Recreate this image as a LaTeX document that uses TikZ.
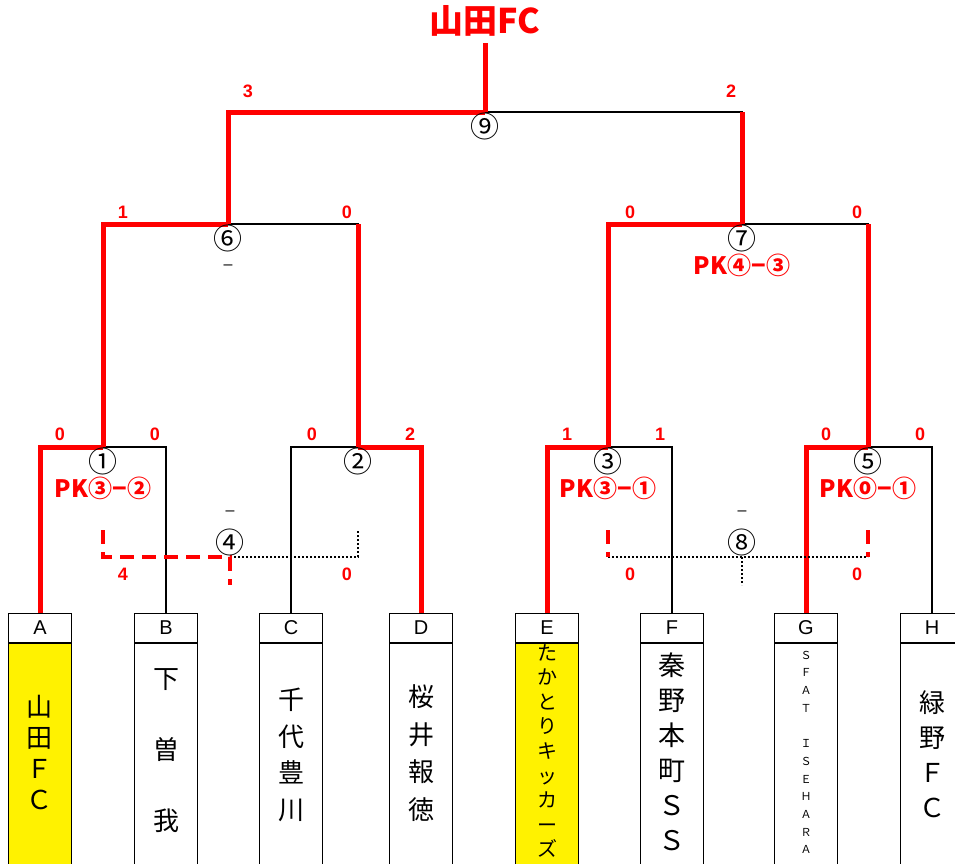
\documentclass[tikz,border=0pt]{standalone}
\usepackage{fontspec}
\setmainfont{Liberation Sans}
\newfontfamily\jp{Noto Sans CJK JP}
\begin{document}
\begin{tikzpicture}[x=1pt,y=-1pt,
  win/.style={red, line width=5pt},
  lose/.style={black, line width=1.8pt},
  windash/.style={red, line width=4pt, dash pattern=on 14pt off 8pt},
  dots/.style={black, line width=1.6pt, dash pattern=on 1.6pt off 2.4pt},
  score/.style={red, font=\fontsize{18}{18}\selectfont\bfseries},
  circ/.style={font=\fontsize{29}{29}\selectfont\jp, inner sep=0pt},
  pk/.style={red, font=\fontsize{24}{24}\selectfont\jp\bfseries, inner sep=0pt},
  hdr/.style={draw, line width=1.6pt, minimum width=63pt, minimum height=29pt, inner sep=0pt, font=\fontsize{20}{20}\selectfont},
  body/.style={draw, line width=1.6pt, minimum width=63pt, minimum height=228pt, anchor=north, inner sep=0pt},
  ttxt/.style 2 args={align=center, inner sep=0pt, font=\fontsize{#1}{#2}\selectfont\jp}
]
\useasboundingbox (0,0) rectangle (955,863);
\clip (0,0) rectangle (955,863);

% team boxes
\foreach \n/\x/\c in {A/40/yellow,B/166/white,C/291/white,D/421/white,E/547/yellow,F/672/white,G/806/white,H/932/white}{
  \node[body, fill=\c] (b\n) at (\x,642) {};
  \node[hdr] (h\n) at (\x,628) {\n};
}
\node[ttxt={26}{31}] (tA) at (bA.north |- 0,752) {山\\田\\Ｆ\\Ｃ};
\node[ttxt={26}{71}] (tB) at (bB.north |- 0,751) {下\\曽\\我};
\node[ttxt={26}{36.5}] (tC) at (bC.north |- 0,755) {千\\代\\豊\\川};
\node[ttxt={26}{37.5}] (tD) at (bD.north |- 0,753) {桜\\井\\報\\徳};
\node[ttxt={20}{24.6}] (tE) at (bE.north |- 0,751) {た\\か\\と\\り\\キ\\ッ\\カ\\ー\\ズ};
\node[ttxt={27}{35}] (tF) at (bF.north |- 0,752) {秦\\野\\本\\町\\Ｓ\\Ｓ};
\node[ttxt={11}{17.7}] (tG) at (bG.north |- 0,752.5) {Ｓ\\Ｆ\\Ａ\\Ｔ\\\strut\\Ｉ\\Ｓ\\Ｅ\\Ｈ\\Ａ\\Ｒ\\Ａ};
\node[ttxt={26}{35}] (tH) at (bH.north |- 0,754) {緑\\野\\Ｆ\\Ｃ};

% junctions
\coordinate (m1) at (103,447);
\coordinate (m2) at (358,447);
\coordinate (m3) at (608,447);
\coordinate (m5) at (868,447);
\coordinate (m6) at (228,224);
\coordinate (m7) at (742,224);
\coordinate (m9) at (485,112);
\coordinate (m4) at (230,557);
\coordinate (m8) at (742,557);

% black (losing) lines
\draw[lose] (m1) -| (hB.north);
\draw[lose] (hC.north) |- (m2);
\draw[lose] (m3) -| (hF.north);
\draw[lose] (m5) -| (hH.north);
\draw[lose] (m6) -| (m2);
\draw[lose] (m7) -| (m5);
\draw[lose] (m9) -| (m7);

% red (winning) lines
\draw[win] (hA.north) |- (m1);
\draw[win] (m2) -| (hD.north);
\draw[win] (hE.north) |- (m3);
\draw[win] (hG.north) |- (m5);
\draw[win] (m1) |- (m6);
\draw[win] (m2) -- (m2 |- m6);
\draw[win] (m3) |- (m7);
\draw[win] (m5) -- (m5 |- m7);
\draw[win] (m6) |- (m9);
\draw[win] (m7) -- (m7 |- m9);

\node[red, font=\fontsize{34}{34}\selectfont\jp\bfseries, inner sep=0pt] (champ) at (485,21) {山田FC};
\draw[win] (m9) -- (485,43);

% placement matches
\coordinate (t4l) at (103,530);
\coordinate (t4r) at (358,530);
\coordinate (t4b) at (230,585);
\draw[dots] (m4) -| (t4r);
\draw[windash] (t4l) |- (m4) -- (t4b);
\coordinate (t8l) at (608,530);
\coordinate (t8r) at (868,530);
\coordinate (t8b) at (742,585);
\draw[dots] (t8l |- m8) -- (t8r |- m8);
\draw[dots] (m8) -- (t8b);
\draw[windash] (t8l) -- (t8l |- m8);
\draw[windash] (t8r) -- (t8r |- m8);

% match numbers
\node[circ] (n1) at (103,461) {①};
\node[circ] (n2) at (358,461) {②};
\node[circ] (n3) at (608,461) {③};
\node[circ] (n5) at (868,461) {⑤};
\node[circ] (n6) at (228,238) {⑥};
\node[circ] (n7) at (742,238) {⑦};
\node[circ] (n9) at (485,126) {⑨};
\node[circ] (n4) at (230,542) {④};
\node[circ] (n8) at (742,542) {⑧};
\node[font=\fontsize{16}{16}\selectfont, inner sep=0pt] (d6) at (228,267) {–};
\node[font=\fontsize{16}{16}\selectfont, inner sep=0pt] (d4) at (230,513) {–};
\node[font=\fontsize{16}{16}\selectfont, inner sep=0pt] (d8) at (742,513) {–};

% PK
\node[pk] (pk1) at (103,488) {PK③−②};
\node[pk] (pk3) at (608,488) {PK③−①};
\node[pk] (pk5) at (868,488) {PK⓪−①};
\node[pk] (pk7) at (742,265) {PK④−③};

% scores
\node[score] at (248,91) {3};
\node[score] at (731,91) {2};
\node[score] at (123,212) {1};
\node[score] at (347,212) {0};
\node[score] at (630,212) {0};
\node[score] at (857,212) {0};
\node[score] at (60,434) {0};
\node[score] at (155,434) {0};
\node[score] at (312,434) {0};
\node[score] at (410,434) {2};
\node[score] at (567,434) {1};
\node[score] at (660,434) {1};
\node[score] at (826,434) {0};
\node[score] at (920,434) {0};
\node[score] at (123,574) {4};
\node[score] at (347,574) {0};
\node[score] at (630,574) {0};
\node[score] at (857,574) {0};
\end{tikzpicture}
\end{document}
